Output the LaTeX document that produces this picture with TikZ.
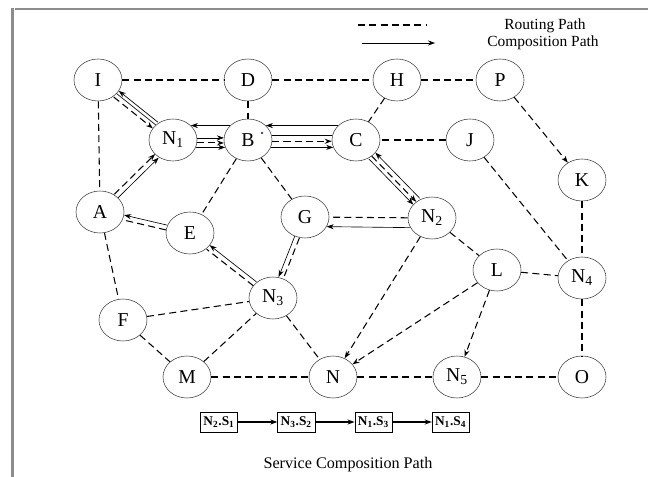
\documentclass[tikz,border=0pt]{standalone}
\usepackage{fontspec}
\setmainfont{Liberation Serif}
\usetikzlibrary{shapes.geometric,arrows.meta}

\begin{document}
\begin{tikzpicture}[x=0.025cm, y=-0.025cm, node distance=1.93cm, >={Stealth[length=5pt,width=3.6pt]},
  site/.style={draw=black!75, ellipse, minimum width=1.2cm, minimum height=1.05cm, inner sep=0pt, font=\fontsize{14}{16}\selectfont},
  route/.style={dash pattern=on 5pt off 3pt, line width=0.75pt},
  comp/.style={line width=0.45pt},
  svc/.style={draw, rectangle, minimum width=0.93cm, minimum height=0.5cm, inner sep=1pt, font=\fontsize{9.5}{10}\selectfont\bfseries},
  frame/.style={black!45, line width=1.6pt}]
\useasboundingbox (0,0) rectangle (648,477);
\draw[frame] (15,9) -- (648,9);
\draw[frame] (12.5,8) -- (12.5,477);
% legend
\coordinate (r1) at (358,25);
\coordinate (r2) at (427,25);
\coordinate (c1) at (362,43);
\coordinate (c2) at (435,43);
\draw[route] (r1) -- (r2);
\draw[comp,->] (c1) -- (c2);
\node (rt) at (545,26) [font=\fontsize{11}{12}\selectfont] {Routing Path};
\node (ct) at (543,43) [font=\fontsize{11}{12}\selectfont] {Composition Path};
% network
\node (I)[site] at (98,80) {I};
\node (D)[site] at (248,80) {D};
\node (H)[site] at (397,80) {H};
\node (P)[site] at (500,80) {P};
\node (N1)[site] at (173,140) {N\textsubscript{1}};
\node (B)[site] at (248,140) {B};
\node (C)[site] at (356,140) {C};
\node (J)[site] at (470,140) {J};
\node (K)[site] at (582,180) {K};
\node (A)[site] at (100,212) {A};
\node (E)[site] at (190,233) {E};
\node (G)[site] at (305,217) {G};
\node (N2)[site] at (432,218) {N\textsubscript{2}};
\node (L)[site] at (497,270) {L};
\node (N4)[site] at (582,278) {N\textsubscript{4}};
\node (N3)[site] at (273,298) {N\textsubscript{3}};
\node (F)[site] at (123,320) {F};
\node (M)[site] at (187,377) {M};
\node (N)[site] at (333,377) {N};
\node (N5)[site] at (457,377) {N\textsubscript{5}};
\node (O)[site] at (582,377) {O};
\fill[blue] (262,133) circle (1.2);
% routing path
\draw[route] (I) -- (D);
\draw[route] (D) -- (H);
\draw[route] (H) -- (P);
\draw[route] (D) -- (B);
\draw[route] (H) -- (C);
\draw[route,->] (P) -- (K);
\draw[route] (I) -- (A);
\draw[route] (J) -- (C);
\draw[route] (J) -- (N4);
\draw[route] (K) -- (N4);
\draw[route] (N4) -- (O);
\draw[route] (L) -- (N4);
\draw[route] (N2) -- (L);
\draw[route,->] (L) -- (N5);
\draw[route,->] (L) -- (N);
\draw[route,->] (N2) -- (N);
\draw[route] (A) -- (F);
\draw[route] (F) -- (N3);
\draw[route] (F) -- (M);
\draw[route] (M) -- (N3);
\draw[route] (N3) -- (N);
\draw[route] (M) -- (N);
\draw[route] (N) -- (N5);
\draw[route] (N5) -- (O);
\draw[route] (B) -- (E);
\draw[route] (B) -- (G);
% composition path
\draw[comp,->,transform canvas={shift={(2.8,-3.5)}}] (N1) -- (I);
\draw[comp,transform canvas={shift={(0.6,-0.8)}}] (I) -- (N1);
\draw[route,->,transform canvas={shift={(-2.2,2.7)}}] (I) -- (N1);
\draw[comp,->,transform canvas={shift={(1.8,1.8)}}] (A) -- (N1);
\draw[route,->,transform canvas={shift={(-1.8,-1.8)}}] (A) -- (N1);
\draw[comp,->,transform canvas={shift={(0.6,-2.4)}}] (E) -- (A);
\draw[route,transform canvas={shift={(-0.6,2.4)}}] (E) -- (A);
\draw[comp,->,transform canvas={shift={(1.5,-2)}}] (N3) -- (E);
\draw[route,transform canvas={shift={(-1.5,2)}}] (N3) -- (E);
\draw[comp,->,transform canvas={shift={(-2.3,-0.9)}}] (G) -- (N3);
\draw[route,transform canvas={shift={(2.3,0.9)}}] (G) -- (N3);
\draw[route] (N2) -- (G);
\draw[comp,->] (N2.204) -- (G.336);
\draw[comp,->,transform canvas={shift={(-2.9,2.8)}}] (C) -- (N2);
\draw[route,->] (C) -- (N2);
\draw[comp,->,transform canvas={shift={(3.6,-3.5)}}] (N2) -- (C);
\draw[comp,->] (C.141) -- (B.39);
\draw[comp] (B.10) -- (C.170);
\draw[route,->] (B.357) -- (C.183);
\draw[comp,->] (B.342) -- (C.198);
\draw[comp,->] (B.141) -- (N1.39);
\draw[comp,->] (N1.5) -- (B.175);
\draw[route,->] (N1.353) -- (B.187);
\draw[comp,->] (N1.342) -- (B.198);
% service composition path
\node (s1)[svc] at (219,422) {N\textsubscript{2}.S\textsubscript{1}};
\node (s2)[svc, right of=s1] {N\textsubscript{3}.S\textsubscript{2}};
\node (s3)[svc, right of=s2] {N\textsubscript{1}.S\textsubscript{3}};
\node (s4)[svc, right of=s3] {N\textsubscript{1}.S\textsubscript{4}};
\draw[line width=0.8pt,->] (s1) -- (s2);
\draw[line width=0.8pt,->] (s2) -- (s3);
\draw[line width=0.8pt,->] (s3) -- (s4);
\node (cap) at (348,465) [font=\fontsize{11.5}{13}\selectfont] {Service Composition Path};
\end{tikzpicture}
\end{document}
